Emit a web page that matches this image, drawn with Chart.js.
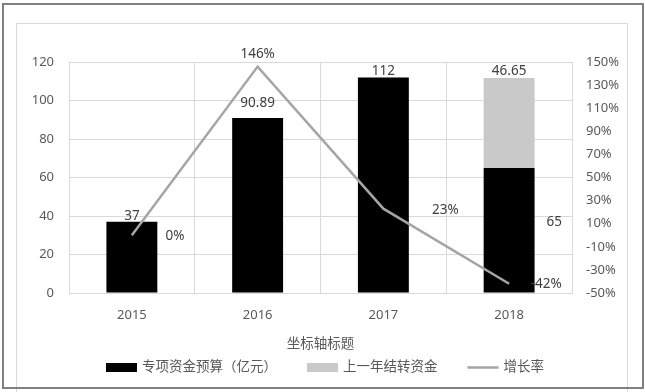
<!DOCTYPE html>
<html>
<head>
<meta charset="utf-8">
<script src="https://cdn.jsdelivr.net/npm/chart.js@4.4.1/dist/chart.umd.min.js"></script>
<style>
  html, body { margin: 0; padding: 0; background: #fff; }
  #wrap { position: relative; width: 645px; height: 392px; overflow: hidden; }
  #chart { position: absolute; left: 0; top: 0; }
  .frame { position: absolute; left: 2px; top: 3px; border: 2px solid #808080; box-sizing: border-box; width: 642px; height: 386px; pointer-events: none; }
  .inner { position: absolute; left: 16px; top: 23px; width: 612px; height: 380px; border: 1px solid #d9d9d9; box-sizing: border-box; pointer-events: none; }
</style>
</head>
<body>
<div id="wrap">
  <canvas id="chart" width="645" height="392"></canvas>
  <div class="inner"></div>
  <div class="frame"></div>
</div>
<script>
// Years on the x axis
const years = ['2015', '2016', '2017', '2018'];

// Special budget (亿元) and carried-over funds
const budget = [37, 90.89, 112, 65];
const carryOver = [null, null, null, 46.65];

// Growth rate, in percent
const growth = [0, 146, 23, -42];

// Axis ranges
const leftTicks = { min: 0, max: 120, step: 20 };
const rightTicks = { min: -50, max: 150, step: 20 };

const textColor = '#595959';
const gridColor = '#d9d9d9';
const fontFamily = "'Noto Sans', 'Noto Sans CJK SC', sans-serif";

Chart.defaults.font.family = fontFamily;
Chart.defaults.font.size = 13;
Chart.defaults.color = textColor;

// Where each value label sits relative to its mark (dx, dy from the bar top / point)
const labelOffsets = {
  0: [[0, -6], [0, -15], [0, -6], [45, 54]],
  1: [null, null, null, [0, -7]],
  2: [[43, 1], [0, -12], [62, 1], [37, 0]],
};

// Draw the value labels next to bars and points
const valueLabels = {
  id: 'valueLabels',
  afterDatasetsDraw(chart) {
    const ctx = chart.ctx;
    ctx.save();
    ctx.font = '13.5px ' + fontFamily;
    ctx.fillStyle = '#404040';
    ctx.textAlign = 'center';
    ctx.textBaseline = 'middle';
    chart.data.datasets.forEach((ds, di) => {
      const meta = chart.getDatasetMeta(di);
      meta.data.forEach((el, i) => {
        const v = ds.data[i];
        if (v === null || v === undefined) return;
        const off = labelOffsets[di] && labelOffsets[di][i];
        if (!off) return;
        const text = di === 2 ? v + '%' : String(v);
        ctx.fillText(text, el.x + off[0], el.y + off[1]);
      });
    });
    ctx.restore();
  },
};

// Excel-style legend under the axis title: wide boxes, a line for the line series
const bottomLegend = {
  id: 'bottomLegend',
  afterDraw(chart) {
    const ctx = chart.ctx;
    const boxW = 31, boxH = 9, textGap = 5, itemGap = 30;
    const y = chart.scales.x.bottom + 17;
    ctx.save();
    ctx.font = '13.5px ' + fontFamily;
    ctx.textBaseline = 'middle';
    const items = chart.data.datasets.map((ds) => ({
      ds,
      w: boxW + textGap + ctx.measureText(ds.label).width,
    }));
    const total = items.reduce((s, it) => s + it.w, 0) + itemGap * (items.length - 1);
    let x = 325 - total / 2;
    items.forEach((it) => {
      const ds = it.ds;
      if (ds.type === 'line') {
        ctx.strokeStyle = ds.borderColor;
        ctx.lineWidth = ds.borderWidth;
        ctx.beginPath();
        ctx.moveTo(x, y);
        ctx.lineTo(x + boxW, y);
        ctx.stroke();
      } else {
        ctx.fillStyle = ds.backgroundColor;
        ctx.fillRect(x, y - boxH / 2, boxW, boxH);
      }
      ctx.fillStyle = textColor;
      ctx.fillText(ds.label, x + boxW + textGap, y);
      x += it.w + itemGap;
    });
    ctx.restore();
  },
};

new Chart(document.getElementById('chart'), {
  type: 'bar',
  data: {
    labels: years,
    datasets: [
      {
        label: '专项资金预算（亿元）',
        data: budget,
        backgroundColor: '#000000',
        yAxisID: 'y',
        order: 1,
        barPercentage: 0.405,
        categoryPercentage: 1,
      },
      {
        label: '上一年结转资金',
        data: carryOver,
        backgroundColor: '#c9c9c9',
        yAxisID: 'y',
        order: 1,
        barPercentage: 0.405,
        categoryPercentage: 1,
      },
      {
        type: 'line',
        label: '增长率',
        data: growth,
        borderColor: '#a5a5a5',
        backgroundColor: '#a5a5a5',
        borderWidth: 2.5,
        pointRadius: 0,
        tension: 0,
        yAxisID: 'y1',
        order: 0,
      },
    ],
  },
  options: {
    responsive: false,
    animation: false,
    layout: { padding: { left: 16, right: 18, top: 62, bottom: 41.5 } },
    plugins: {
      tooltip: { enabled: false },
      legend: { display: false },
    },
    scales: {
      x: {
        stacked: true,
        grid: { color: gridColor, offset: true, drawTicks: false },
        border: { color: gridColor },
        ticks: { padding: 14, color: textColor, font: { size: 13 } },
        title: { display: true, text: '坐标轴标题', color: textColor, font: { size: 13.5 }, padding: { top: 0, bottom: -2 } },
        afterFit(scale) { scale.height = 57.5; },
      },
      y: {
        stacked: true,
        position: 'left',
        min: leftTicks.min,
        max: leftTicks.max,
        grid: { color: gridColor, drawTicks: false },
        border: { color: gridColor },
        ticks: { stepSize: leftTicks.step, padding: 15, color: textColor, font: { size: 13 } },
        afterFit(scale) { scale.width = 53; },
      },
      y1: {
        position: 'right',
        min: rightTicks.min,
        max: rightTicks.max,
        grid: { display: false, drawTicks: false },
        border: { color: gridColor },
        ticks: { stepSize: rightTicks.step, padding: 14, color: textColor, font: { size: 13 }, callback: (v) => v + '%' },
        afterFit(scale) { scale.width = 55; },
      },
    },
  },
  plugins: [valueLabels, bottomLegend],
});
</script>
</body>
</html>
